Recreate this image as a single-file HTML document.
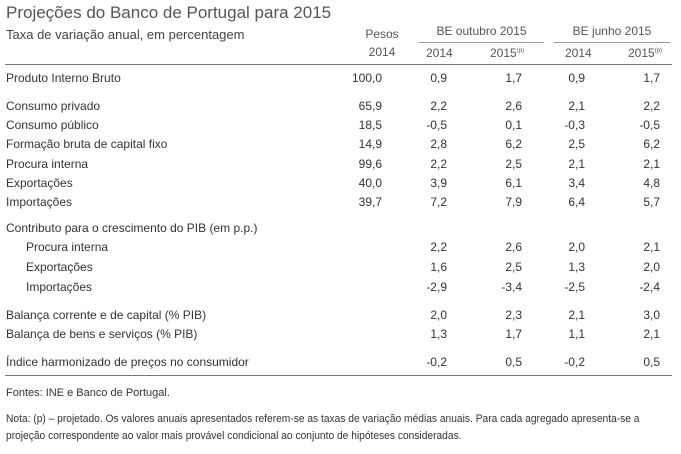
<!DOCTYPE html>
<html><head><meta charset="utf-8"><style>
body{margin:0;width:681px;height:454px;background:#fff;position:relative;font-family:"Liberation Sans",sans-serif;color:#333;overflow:hidden}
div{position:absolute;white-space:nowrap}
.t{font-size:12px}
.r{text-align:right;width:40px}
.l{height:1px;background:#999}
</style></head><body>
<div style="left:6px;top:3px;font-size:17px;color:#555">Projeções do Banco de Portugal para 2015</div>
<div style="left:6px;top:27px;font-size:13px;color:#444">Taxa de variação anual, em percentagem</div>
<div class="t" style="left:360px;top:27px;width:44px;text-align:center;color:#555">Pesos<br><span style="line-height:22px">2014</span></div>
<div class="t" style="left:419px;top:24px;width:125px;text-align:center;color:#555">BE outubro 2015</div>
<div class="t" style="left:554px;top:24px;width:116px;text-align:center;color:#555">BE junho 2015</div>
<div class="l" style="left:419px;top:42px;width:125px"></div>
<div class="l" style="left:554px;top:42px;width:116px"></div>
<div class="t" style="left:426px;top:46px;color:#555">2014</div>
<div class="t" style="left:490px;top:46px;color:#555">2015<sup style="font-size:6px">(p)</sup></div>
<div class="t" style="left:565px;top:46px;color:#555">2014</div>
<div class="t" style="left:628px;top:46px;color:#555">2015<sup style="font-size:6px">(p)</sup></div>
<div class="l" style="left:5px;top:64px;width:667px;background:#777"></div>
<div id="rows"></div>
<div class="l" style="left:5px;top:375px;width:667px;background:#777"></div>
<div style="left:6px;top:387px;font-size:11px">Fontes: INE e Banco de Portugal.</div>
<div style="left:6px;top:411px;font-size:11px;line-height:17px;transform:scaleX(0.93);transform-origin:left">Nota: (p) – projetado. Os valores anuais apresentados referem-se as taxas de variação médias anuais. Para cada agregado apresenta-se a<br>projeção correspondente ao valor mais provável condicional ao conjunto de hipóteses consideradas.</div>
<script>
var R=[[71,"Produto Interno Bruto","100,0","0,9","1,7","0,9","1,7",0],
[99,"Consumo privado","65,9","2,2","2,6","2,1","2,2",0],
[118,"Consumo público","18,5","-0,5","0,1","-0,3","-0,5",0],
[137,"Formação bruta de capital fixo","14,9","2,8","6,2","2,5","6,2",0],
[157,"Procura interna","99,6","2,2","2,5","2,1","2,1",0],
[176,"Exportações","40,0","3,9","6,1","3,4","4,8",0],
[195,"Importações","39,7","7,2","7,9","6,4","5,7",0],
[221,"Contributo para o crescimento do PIB (em p.p.)","","","","","",0],
[240,"Procura interna","","2,2","2,6","2,0","2,1",1],
[260,"Exportações","","1,6","2,5","1,3","2,0",1],
[280,"Importações","","-2,9","-3,4","-2,5","-2,4",1],
[308,"Balança corrente e de capital (% PIB)","","2,0","2,3","2,1","3,0",0],
[327,"Balança de bens e serviços (% PIB)","","1,3","1,7","1,1","2,1",0],
[355,"Índice harmonizado de preços no consumidor","","-0,2","0,5","-0,2","0,5",0]];
var X=[382,447,522,585,660],h="";
R.forEach(function(r){h+='<div class="t" style="left:'+(r[7]?26:6)+'px;top:'+r[0]+'px">'+r[1]+'</div>';
for(var i=0;i<5;i++)if(r[i+2])h+='<div class="t r" style="left:'+(X[i]-40)+'px;top:'+r[0]+'px">'+r[i+2]+'</div>';});
document.getElementById('rows').outerHTML=h;
</script>
</body></html>
